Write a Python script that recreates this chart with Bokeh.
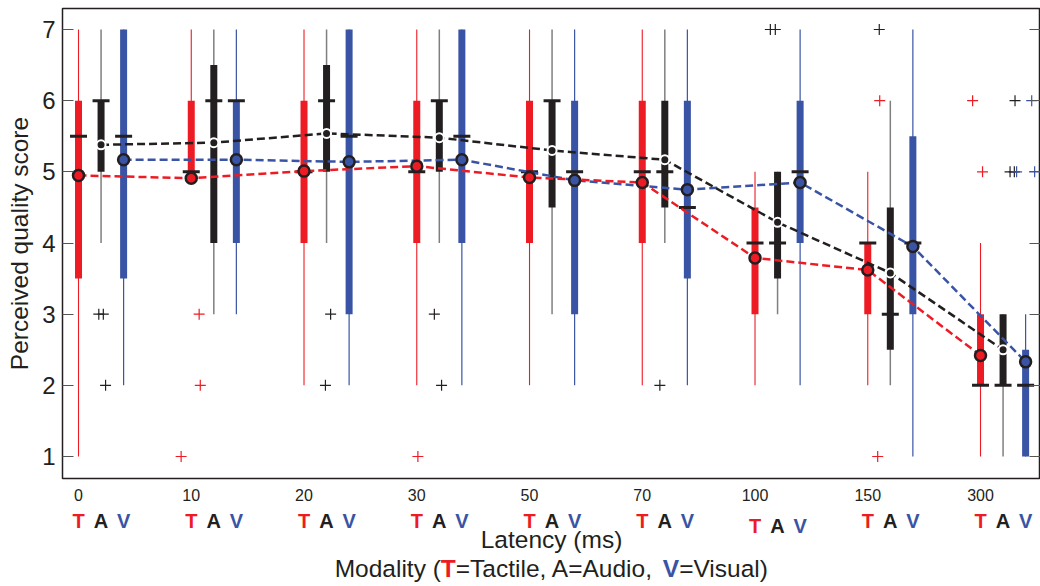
import math
from bokeh.plotting import figure
from bokeh.layouts import column
from bokeh.models import ColumnDataSource, Range1d, FixedTicker, LinearAxis
from bokeh.core.properties import value, field
from bokeh.embed import file_html
from bokeh.resources import INLINE

# ---------------- data ----------------
latency_labels = ["0", "10", "20", "30", "50", "70", "100", "150", "300"]
modalities = ["T", "A", "V"]
y_ticks = [1, 2, 3, 4, 5, 6, 7]

T_whislo = [1, 5, 2, 2, 2, 2, 2, 2, 1]
T_q1     = [3.5, 5, 4, 4, 4, 4, 3, 3, 2]
T_median = [5.5, 5, 5, 5, 5, 5, 4, 4, 2]
T_q3     = [6, 6, 6, 6, 6, 6, 4.5, 4, 3]
T_whishi = [7, 7, 7, 7, 7, 7, 5, 5, 4]
T_mean   = [4.95, 4.91, 5.01, 5.08, 4.92, 4.85, 3.79, 3.62, 2.42]

A_whislo = [4, 3, 4, 4, 3, 4, 3, 2, 1]
A_q1     = [5, 4, 5, 5, 4.5, 4.5, 3.5, 2.5, 2]
A_median = [6, 6, 6, 6, 6, 5, 4, 3, 2]
A_q3     = [6, 6.5, 6.5, 6, 6, 6, 5, 4.5, 3]
A_whishi = [7, 7, 7, 7, 7, 7, 5, 6, 3]
A_mean   = [5.38, 5.41, 5.54, 5.48, 5.30, 5.17, 4.29, 3.58, 2.50]

V_whislo = [2, 3, 2, 2, 2, 2, 2, 1, 1]
V_q1     = [3.5, 4, 3, 4, 3, 3.5, 4, 3, 1]
V_median = [5.5, 6, 5.5, 5.5, 5, 4.5, 5, 4, 2]
V_q3     = [7, 6, 7, 7, 6, 6, 6, 5.5, 2.5]
V_whishi = [7, 7, 7, 7, 7, 7, 7, 7, 3]
V_mean   = [5.17, 5.17, 5.14, 5.17, 4.88, 4.75, 4.85, 3.95, 2.33]

# outliers: latency group index, modality, score, horizontal jitter
out_group  = [0, 0, 0, 1, 1, 1, 2, 2, 3, 3, 3, 5, 6, 6, 7, 7, 7, 8, 8, 8, 8, 8, 8, 8, 8]
out_mod    = ["A", "A", "A", "T", "T", "T", "A", "A", "T", "A", "A", "A", "A", "A",
              "T", "T", "A", "T", "T", "A", "A", "A", "V", "V", "V"]
out_value  = [3, 3, 2, 3, 2, 1, 3, 2, 1, 3, 2, 2, 7, 7, 6, 1, 7, 6, 5, 6, 5, 5, 6, 5, 5]
out_jitter = [-0.1, 0.1, 0.2, 0.35, 0.4, -0.45, 0.18, -0.05, 0.05, -0.22, 0.1, -0.22,
              -0.32, -0.1, 0.53, 0.44, -0.49, -0.35, 0.09, 0.53, 0.31, 0.5, 0.27, -0.4, 0.4]

# ---------------- styling / layout ----------------
FONT = "Liberation Sans"
DARK = "#231F20"
RED = "#ED1C24"
BLUE = "#3A54A5"
box_color = {"T": RED, "A": DARK, "V": BLUE}
whisk_color = {"T": RED, "A": "#7F7F7F", "V": BLUE}
whisk_width = {"T": 1.1, "A": 1.5, "V": 1.2}
GROUP_STEP = 5

W_ALL = 1040
BL, BR, BT, BB = 62, 0, 8, 30
FRAME_H = 470
MAIN_H = BT + FRAME_H + BB
BOT_H = 586 - MAIN_H
X0, X1 = -0.71, 42.66
Y0, Y1 = 0.691, 7.295
FRAME_W = W_ALL - BL - BR
PXX = FRAME_W / (X1 - X0)


def px2x(px):
    return X0 + (px - BL) / PXX


def below_y(py):
    # pixel row of the page -> coordinate of the lower text strip
    return py - MAIN_H


def positions(mod):
    mi = modalities.index(mod)
    return [g * GROUP_STEP + mi for g in range(len(latency_labels))]


xr = Range1d(X0, X1)
p = figure(width=W_ALL, height=MAIN_H, x_range=xr, y_range=Range1d(Y0, Y1),
           output_backend="svg", toolbar_location=None,
           min_border_left=BL, min_border_right=BR, min_border_top=BT, min_border_bottom=BB)
p.xgrid.visible = False
p.ygrid.visible = False
p.outline_line_color = DARK
p.outline_line_width = 1.5
p.background_fill_color = "white"
p.border_fill_color = "white"

# y axis
p.yaxis.ticker = FixedTicker(ticks=y_ticks)
p.yaxis.axis_line_color = None
p.yaxis.major_tick_in = 11
p.yaxis.major_tick_out = 0
p.yaxis.major_tick_line_color = "#555555"
p.yaxis.minor_tick_line_color = None
p.yaxis.major_label_standoff = 7
p.yaxis.major_label_text_font = FONT
p.yaxis.major_label_text_font_size = "24px"
p.yaxis.major_label_text_color = DARK
p.yaxis.axis_label = "Perceived quality score"
p.yaxis.axis_label_text_font = FONT
p.yaxis.axis_label_text_font_size = "24.5px"
p.yaxis.axis_label_text_font_style = "normal"
p.yaxis.axis_label_text_color = DARK
p.yaxis.axis_label_standoff = 6

ry = LinearAxis(ticker=FixedTicker(ticks=y_ticks),
                major_label_overrides={t: "" for t in y_ticks},
                major_tick_in=11, major_tick_out=0, major_tick_line_color="#555555",
                axis_line_color=None, minor_tick_line_color=None, major_label_standoff=0)
p.add_layout(ry, "right")

# x axis: latency labels under the tactile box of each group
t_pos = positions("T")
p.xaxis.ticker = FixedTicker(ticks=t_pos)
p.xaxis.major_label_overrides = {t: lab for t, lab in zip(t_pos, latency_labels)}
p.xaxis.axis_line_color = None
p.xaxis.major_tick_line_color = None
p.xaxis.minor_tick_line_color = None
p.xaxis.major_label_standoff = 4
p.xaxis.major_label_text_font = FONT
p.xaxis.major_label_text_font_size = "16px"
p.xaxis.major_label_text_color = DARK

stats = {
    "T": (T_whislo, T_q1, T_median, T_q3, T_whishi, T_mean),
    "A": (A_whislo, A_q1, A_median, A_q3, A_whishi, A_mean),
    "V": (V_whislo, V_q1, V_median, V_q3, V_whishi, V_mean),
}
sources = {}
for m in modalities:
    lo, q1, med, q3, hi, mean = stats[m]
    sources[m] = ColumnDataSource(dict(x=positions(m), lo=lo, q1=q1, med=med, q3=q3, hi=hi, mean=mean))

for m in modalities:
    p.segment(x0="x", y0="lo", x1="x", y1="hi", source=sources[m],
              line_color=whisk_color[m], line_width=whisk_width[m])
for m in modalities:
    p.segment(x0="x", y0="q1", x1="x", y1="q3", source=sources[m],
              line_color=box_color[m], line_width=7, line_cap="butt")
for m in modalities:
    p.scatter(x="x", y="med", source=sources[m], marker="dash", size=17,
              line_width=3, line_color=DARK)

ox = [g * GROUP_STEP + modalities.index(m) + j for g, m, j in zip(out_group, out_mod, out_jitter)]
oc = [box_color[m] for m in out_mod]
osrc = ColumnDataSource(dict(x=ox, y=out_value, color=oc))
p.scatter(x="x", y="y", source=osrc, marker="cross", size=11, line_width=1.2,
          line_color=field("color"))

for m in ["V", "A", "T"]:
    p.line(x="x", y="mean", source=sources[m], line_color=box_color[m],
           line_width=2.5, line_dash="8 4")
p.scatter(x="x", y="mean", source=sources["V"], marker="circle", size=11,
          fill_color=BLUE, line_color=DARK, line_width=2.5)
p.scatter(x="x", y="mean", source=sources["A"], marker="circle", size=9,
          fill_color=DARK, line_color="white", line_width=2)
p.scatter(x="x", y="mean", source=sources["T"], marker="circle", size=11,
          fill_color=RED, line_color=DARK, line_width=2.5)

# ---------------- lower strip: modality letters and axis titles ----------------
pb = figure(width=W_ALL, height=BOT_H, x_range=xr, y_range=Range1d(BOT_H, 0),
            output_backend="svg", toolbar_location=None,
            x_axis_location=None, y_axis_location=None,
            min_border_left=BL, min_border_right=BR, min_border_top=0, min_border_bottom=0)
pb.xgrid.visible = False
pb.ygrid.visible = False
pb.outline_line_color = None
pb.background_fill_color = "white"
pb.border_fill_color = "white"

letter_x, letter_y, letter_t, letter_c = [], [], [], []
group_shift = {6: 5}
for g in range(len(latency_labels)):
    for mi, m in enumerate(modalities):
        letter_x.append(g * GROUP_STEP + mi)
        letter_y.append(below_y(520 + group_shift.get(g, 0)))
        letter_t.append(m)
        letter_c.append(box_color[m])
lsrc = ColumnDataSource(dict(x=letter_x, y=letter_y, text=letter_t, color=letter_c))
pb.text(x="x", y="y", text="text", source=lsrc, text_color=field("color"),
        text_font=value(FONT), text_font_size=value("20px"), text_font_style="bold",
        text_align="center", text_baseline="middle")

pb.text(x=[px2x(551)], y=[below_y(539)], text=["Latency (ms)"], text_align="center",
        text_baseline="middle", text_font=value(FONT), text_font_size=value("24.5px"),
        text_color=DARK)

W = {'M': .833, 'o': .556, 'd': .556, 'a': .556, 'l': .222, 'i': .222, 't': .278, 'y': .5,
     ' ': .278, '(': .333, ')': .333, '=': .584, 'T': .611, 'c': .5, 'e': .556, ',': .278,
     'A': .667, 'u': .556, 'V': .667, 's': .5}
FS = 24.5
pieces = [("Modality (", "normal", DARK), ("T", "bold", RED), ("=Tactile, A=Audio, ", "normal", DARK),
          ("V", "bold", BLUE), ("=Visual)", "normal", DARK)]
widths = [sum(W[c] for c in t) * FS for t, _, _ in pieces]
cur = 551 - sum(widths) / 2
for (t, style, col), w in zip(pieces, widths):
    pb.text(x=[px2x(cur)], y=[below_y(568)], text=[t], text_align="left",
            text_baseline="middle", text_font=value(FONT), text_font_size=value(f"{FS}px"),
            text_font_style=style, text_color=col)
    cur += w

layout = column(p, pb, spacing=0)
open("out.html", "w").write(file_html(layout, INLINE))
